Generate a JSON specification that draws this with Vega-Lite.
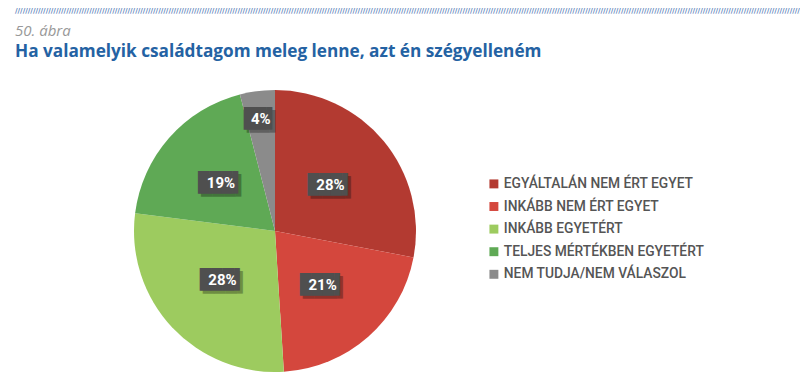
{
  "$schema": "https://vega.github.io/schema/vega-lite/v6.json",
  "background": "white",
  "padding": {"left": 15, "top": 6, "right": 0, "bottom": 0},
  "title": {
    "text": "//////////////////////////////////////////////////////////////////////////////////////////////////////////////////////////////////////////////////////////////////////////////////////////////////////////////////////////////////////////////////////////////////////////////////////////////////////////////////////////////",
    "anchor": "start",
    "frame": "group",
    "font": "DejaVu Sans",
    "fontSize": 7,
    "fontWeight": "bold",
    "color": "#5b82b9",
    "offset": 10
  },
  "spacing": 0,
  "vconcat": [
    {
      "width": 520,
      "height": 282,
      "title": {
        "text": "50. ábra",
        "subtitle": "Ha valamelyik családtagom meleg lenne, azt én szégyelleném",
        "anchor": "start",
        "frame": "group",
        "font": "Open Sans",
        "fontSize": 15,
        "fontStyle": "italic",
        "fontWeight": "normal",
        "color": "#999999",
        "subtitleFont": "Open Sans",
        "subtitleFontSize": 17.2,
        "subtitleFontWeight": "bold",
        "subtitleColor": "#2462a3",
        "subtitlePadding": 4,
        "offset": 30
      },
      "data": {
        "values": [
          {"cat": "EGYÁLTALÁN NEM ÉRT EGYET", "pct": 28, "lbl": "28%", "ord": 1},
          {"cat": "INKÁBB NEM ÉRT EGYET", "pct": 21, "lbl": "21%", "ord": 2},
          {"cat": "INKÁBB EGYETÉRT", "pct": 28, "lbl": "28%", "ord": 3},
          {"cat": "TELJES MÉRTÉKBEN EGYETÉRT", "pct": 19, "lbl": "19%", "ord": 4},
          {"cat": "NEM TUDJA/NEM VÁLASZOL", "pct": 4, "lbl": "4%", "ord": 5}
        ]
      },
      "encoding": {
        "theta": {"field": "pct", "type": "quantitative", "stack": true},
        "order": {"field": "ord", "type": "quantitative"}
      },
      "layer": [
        {
          "mark": {"type": "arc"},
          "encoding": {
            "color": {
              "field": "cat",
              "type": "nominal",
              "sort": null,
              "scale": {
                "domain": ["EGYÁLTALÁN NEM ÉRT EGYET", "INKÁBB NEM ÉRT EGYET", "INKÁBB EGYETÉRT", "TELJES MÉRTÉKBEN EGYETÉRT", "NEM TUDJA/NEM VÁLASZOL"],
                "range": ["#b33a31", "#d4473d", "#9dcb5f", "#5fa955", "#8b8b8b"]
              },
              "legend": {
                "title": null,
                "orient": "none",
                "legendX": 472,
                "legendY": 87,
                "padding": 0,
                "symbolType": "square",
                "symbolSize": 80,
                "symbolStrokeWidth": 0,
                "labelFont": "Roboto",
                "labelFontSize": 13.8,
                "labelFontWeight": 500,
                "labelColor": "#555555",
                "labelOffset": 3,
                "rowPadding": 7.6,
                "labelLimit": 400
              }
            }
          }
        },
        {
          "mark": {
            "type": "text",
            "font": "DejaVu Sans Mono",
            "fontSize": 19,
            "baseline": "middle",
            "align": "center",
            "color": "#000000",
            "opacity": 0.3,
            "dx": 3,
            "dy": 3,
            "radius": {"expr": "datum.pct < 10 ? 113 : 72"}
          },
          "encoding": {
            "text": {"condition": {"test": "datum.pct < 10", "value": "██▌"}, "value": "███▌"}
          }
        },
        {
          "mark": {
            "type": "text",
            "font": "DejaVu Sans Mono",
            "fontSize": 19,
            "baseline": "middle",
            "align": "center",
            "color": "#4f4f4f",
            "radius": {"expr": "datum.pct < 10 ? 113 : 72"}
          },
          "encoding": {
            "text": {"condition": {"test": "datum.pct < 10", "value": "██▌"}, "value": "███▌"}
          }
        },
        {
          "mark": {
            "type": "text",
            "font": "Roboto",
            "fontSize": 15,
            "fontWeight": "bold",
            "baseline": "middle",
            "align": "center",
            "color": "#ffffff",
            "radius": {"expr": "datum.pct < 10 ? 113 : 72"}
          },
          "encoding": {
            "text": {"field": "lbl", "type": "nominal"}
          }
        }
      ]
    }
  ],
  "config": {"view": {"stroke": null}}
}
